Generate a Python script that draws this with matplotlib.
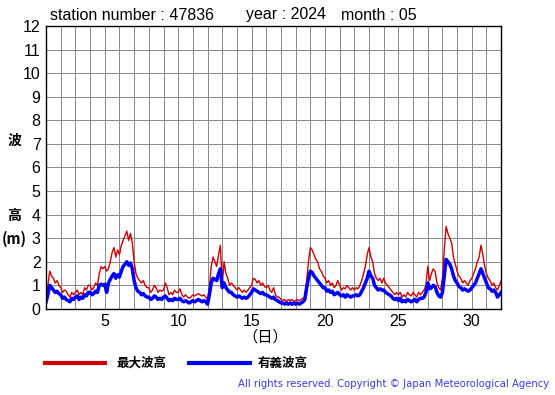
import numpy as np
import matplotlib.pyplot as plt
from matplotlib.ticker import MultipleLocator

plt.rcParams['font.family'] = ['Liberation Sans', 'Noto Sans CJK JP', 'DejaVu Sans']

# 3-hourly values, one row per day (00h..21h), last value = 32日 00h
max_wave = [
    0.5, 1.0, 1.6, 1.4, 1.3, 1.1, 1.2, 1.0,
    0.9, 0.7, 0.8, 0.75, 0.6, 0.5, 0.7, 0.6,
    0.7, 0.8, 0.6, 0.7, 0.6, 0.9, 0.8, 1.0,
    1.0, 0.8, 0.9, 1.1, 1.0, 1.5, 1.8, 1.7,
    1.8, 1.6, 1.7, 2.0, 2.4, 2.6, 2.2, 2.5,
    2.3, 2.7, 2.9, 3.1, 3.3, 2.9, 3.2, 2.8,
    2.0, 1.5, 1.3, 1.2, 1.1, 1.2, 1.0, 0.9,
    0.9, 0.7, 0.8, 1.0, 0.9, 0.7, 0.8, 0.75,
    0.8, 1.1, 0.9, 0.6, 0.7, 0.6, 0.8, 0.7,
    0.7, 0.85, 0.6, 0.5, 0.6, 0.5, 0.45, 0.5,
    0.6, 0.55, 0.6, 0.65, 0.6, 0.55, 0.6, 0.5,
    0.4, 0.9, 1.8, 2.2, 2.0, 1.8, 2.3, 2.7,
    1.0, 2.0, 1.5, 1.3, 1.0, 1.1, 1.0, 0.9,
    0.8, 0.9, 0.8, 0.7, 0.8, 0.7, 0.8, 0.9,
    1.0, 1.3, 1.25, 1.1, 1.2, 1.0, 1.1, 0.95,
    0.9, 1.0, 0.8, 0.7, 0.9, 0.6, 0.5, 0.5,
    0.4, 0.35, 0.4, 0.3, 0.4, 0.35, 0.4, 0.3,
    0.35, 0.4, 0.35, 0.4, 0.45, 0.5, 1.2, 2.0,
    2.6, 2.5, 2.3, 2.1, 2.0, 1.7, 1.6, 1.4,
    1.3, 1.1, 1.2, 1.0, 1.1, 0.9, 1.0, 1.2,
    1.0, 0.8, 0.9, 0.85, 1.0, 0.9, 0.8, 0.9,
    0.8, 0.9, 0.85, 1.0, 1.2, 1.5, 1.8, 2.3,
    2.6, 2.2, 2.0, 1.5, 1.3, 1.2, 1.3, 1.1,
    1.3, 1.1, 1.0, 0.9, 0.8, 0.7, 0.6, 0.7,
    0.6, 0.7, 0.5, 0.6, 0.5, 0.7, 0.6, 0.55,
    0.7, 0.6, 0.5, 0.7, 0.6, 0.7, 0.8, 1.0,
    1.8, 1.2, 1.5, 1.7, 1.6, 1.1, 0.9, 0.8,
    1.3, 2.5, 3.5, 3.2, 3.0, 2.8, 2.2, 1.9,
    1.6, 1.4, 1.3, 1.1, 1.2, 1.1, 1.0, 1.2,
    1.3, 1.5, 1.7, 2.0, 2.2, 2.7, 2.3, 1.8,
    1.5, 1.3, 1.2, 1.0, 1.1, 0.9, 0.8, 1.0,
    1.2,
]

sig_wave = [
    0.3, 0.6, 1.0, 0.9, 0.8, 0.7, 0.75, 0.65,
    0.6, 0.45, 0.5, 0.4, 0.35, 0.3, 0.45, 0.4,
    0.5, 0.55, 0.4, 0.5, 0.45, 0.6, 0.55, 0.7,
    0.7, 0.6, 0.65, 0.75, 0.7, 1.0, 1.05, 1.0,
    1.05, 0.7, 1.1, 1.25, 1.4, 1.5, 1.3, 1.45,
    1.35, 1.6, 1.8, 1.9, 2.0, 1.85, 1.95, 1.7,
    1.2, 0.9, 0.75, 0.7, 0.6, 0.65, 0.55, 0.5,
    0.5, 0.4, 0.45, 0.55, 0.5, 0.4, 0.45, 0.4,
    0.5, 0.55, 0.45, 0.35, 0.4, 0.35, 0.45, 0.4,
    0.4, 0.45, 0.35, 0.3, 0.35, 0.3, 0.25, 0.3,
    0.35, 0.3, 0.35, 0.4, 0.35, 0.3, 0.35, 0.3,
    0.2, 0.6, 1.1, 1.3, 1.25, 1.2, 1.5, 1.7,
    0.9, 1.1, 0.9, 0.8, 0.7, 0.7, 0.6, 0.55,
    0.5, 0.55, 0.5, 0.45, 0.5, 0.45, 0.5, 0.6,
    0.7, 0.85, 0.8, 0.75, 0.7, 0.65, 0.7, 0.6,
    0.6, 0.55, 0.5, 0.45, 0.5, 0.4, 0.35, 0.3,
    0.25, 0.25, 0.2, 0.25, 0.2, 0.25, 0.2, 0.25,
    0.2, 0.25, 0.2, 0.25, 0.3, 0.4, 0.9, 1.3,
    1.6, 1.55, 1.4, 1.3, 1.2, 1.1, 1.0, 0.9,
    0.9, 0.75, 0.8, 0.7, 0.75, 0.6, 0.65, 0.7,
    0.6, 0.55, 0.6, 0.5, 0.6, 0.55, 0.5, 0.55,
    0.55, 0.6, 0.55, 0.6, 0.75, 0.9, 1.1, 1.3,
    1.6, 1.4, 1.3, 1.0, 0.9, 0.8, 0.85, 0.8,
    0.8, 0.7, 0.65, 0.6, 0.55, 0.45, 0.4, 0.45,
    0.35, 0.45, 0.3, 0.35, 0.3, 0.4, 0.35, 0.3,
    0.35, 0.4, 0.3, 0.4, 0.45, 0.45, 0.5, 0.7,
    1.1, 0.85, 0.9, 1.0, 0.95, 0.7, 0.55, 0.5,
    0.7, 1.4, 2.1, 2.0, 1.9, 1.7, 1.4, 1.2,
    1.1, 0.95, 0.9, 0.8, 0.85, 0.8, 0.75, 0.8,
    0.9, 1.0, 1.1, 1.3, 1.5, 1.7, 1.5, 1.3,
    1.1, 0.9, 0.85, 0.75, 0.8, 0.7, 0.5, 0.6,
    0.7,
]

days = 1 + np.arange(len(max_wave)) / 8.0
xticks = [5, 10, 15, 20, 25, 30]

fig = plt.figure(figsize=(5.55, 3.95), dpi=100)
ax = fig.add_axes([0.083, 0.218, 0.820, 0.716])

ax.plot(days, max_wave, color='#cc0000', lw=1.0)
ax.plot(days, sig_wave, color='#0000ff', lw=2.5)

ax.set_xlim(1, 32)
ax.set_ylim(0, 12)
ax.set_xticks(xticks)
ax.xaxis.set_minor_locator(MultipleLocator(1))
ax.yaxis.set_major_locator(MultipleLocator(1))
ax.grid(which='both', color='#888888', lw=0.7)
ax.set_axisbelow(True)
ax.tick_params(which='both', length=0, labelsize=11.5)
ax.tick_params(axis='y', pad=4)
ax.tick_params(axis='x', pad=4)
for s in ax.spines.values():
    s.set_linewidth(1.0)

jp = ['Noto Sans CJK JP', 'DejaVu Sans']
fig.text(50 / 555, 1 - 15 / 395, 'station number : 47836', fontsize=11.5, va='center')
fig.text(246 / 555, 1 - 15 / 395, 'year : 2024', fontsize=11.5, va='center')
fig.text(341 / 555, 1 - 15 / 395, 'month : 05', fontsize=11.5, va='center')

fig.text(14 / 555, 1 - 141 / 395, '波', family=jp, fontsize=10, weight='bold', ha='center', va='center')
fig.text(14 / 555, 1 - 216 / 395, '高', family=jp, fontsize=10, weight='bold', ha='center', va='center')
fig.text(14 / 555, 1 - 239 / 395, '(m)', family=jp, fontsize=10.5, weight='bold', ha='center', va='center')
fig.text(265 / 555, 1 - 337 / 395, '（日）', family=jp, fontsize=11, ha='center', va='center')

fig.add_artist(plt.Line2D([45 / 555, 105 / 555], [1 - 363 / 395] * 2, color='#cc0000', lw=3))
fig.text(116 / 555, 1 - 363 / 395, '最大波高', family=jp, fontsize=9, weight='bold', va='center')
fig.add_artist(plt.Line2D([189 / 555, 250 / 555], [1 - 363 / 395] * 2, color='#0000ff', lw=3))
fig.text(258 / 555, 1 - 363 / 395, '有義波高', family=jp, fontsize=9, weight='bold', va='center')

fig.text(549 / 555, 1 - 384 / 395, 'All rights reserved. Copyright © Japan Meteorological Agency',
         family='DejaVu Sans', fontsize=7.3, color='#3c3cdc', ha='right', va='center')

fig.savefig('out.png', dpi=100)
